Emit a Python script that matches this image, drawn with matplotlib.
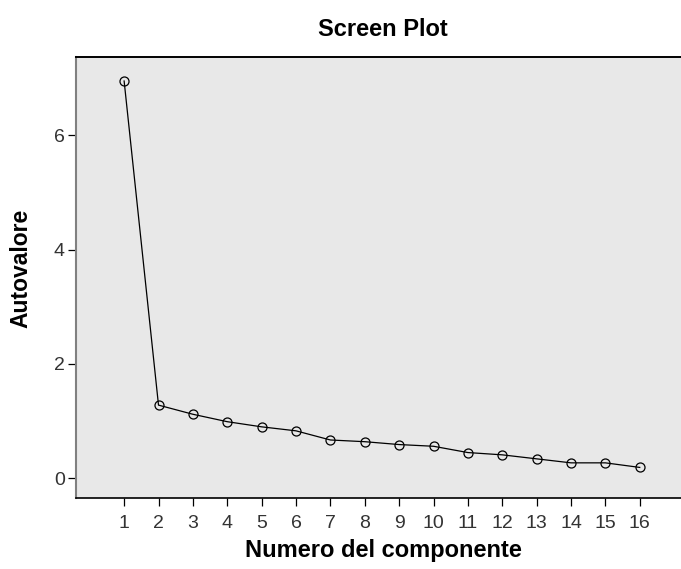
import matplotlib
matplotlib.use("Agg")
import matplotlib.pyplot as plt

plt.rcParams['font.family'] = ['Liberation Sans', 'DejaVu Sans']

# componenti e autovalori
componenti = list(range(1, 17))
autovalori = [6.95, 1.28, 1.12, 0.99, 0.90, 0.83, 0.67, 0.64,
              0.59, 0.56, 0.45, 0.41, 0.34, 0.27, 0.27, 0.19]
y_ticks = [0, 2, 4, 6]

W, H = 681, 569
fig = plt.figure(figsize=(W / 100, H / 100), dpi=100)
ax = fig.add_axes([76 / W, 1 - 498 / H, (W - 76) / W, (498 - 57) / H])
ax.set_facecolor('#e8e8e8')

ax.plot(componenti, autovalori, '-', color='black', lw=0.9,
        marker='o', markersize=6.5, markerfacecolor='none',
        markeredgecolor='black', markeredgewidth=0.9)

ax.set_xlim(-0.4, 17.2)
ax.set_ylim(-0.345, 7.37)
ax.set_xticks(componenti)
ax.set_yticks(y_ticks)
ax.tick_params(axis='both', direction='out', length=6, width=0.9,
               labelsize=14, labelcolor='#333333', pad=2)
ax.tick_params(axis='x', pad=6)

ax.spines['right'].set_visible(False)
ax.spines['top'].set_color('black')
ax.spines['top'].set_linewidth(1.4)
ax.spines['bottom'].set_color('black')
ax.spines['bottom'].set_linewidth(1.2)
ax.spines['left'].set_color('#808080')
ax.spines['left'].set_linewidth(1.5)

fig.text(383 / W, 1 - 30 / H, 'Screen Plot', ha='center', va='center',
         fontsize=17, fontweight='bold')
fig.text(383 / W, 1 - 551 / H, 'Numero del componente', ha='center',
         va='center', fontsize=17, fontweight='bold')
fig.text(21 / W, 1 - 268 / H, 'Autovalore', ha='center', va='center',
         rotation=90, fontsize=16.5, fontweight='bold')

fig.savefig('out.png', dpi=100)
